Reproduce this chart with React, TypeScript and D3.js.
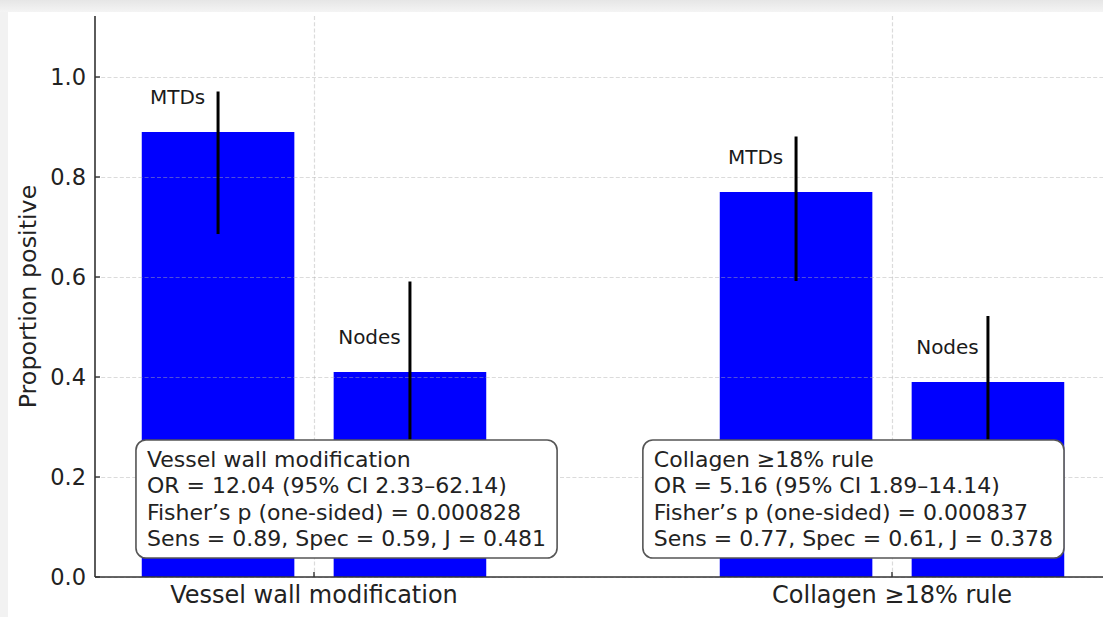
import React, { useEffect, useRef } from "react";
import * as d3 from "d3";

// Two diagnostic rules, each comparing MTDs against Nodes
const groups = ["Vessel wall modification", "Collagen ≥18% rule"];
const subgroups = ["MTDs", "Nodes"];
// proportion positive per group × subgroup
const proportions = [
  [0.89, 0.41],
  [0.77, 0.39],
];
// 95% confidence interval bounds per group × subgroup
const ciLower = [
  [0.686, 0.25],
  [0.592, 0.27],
];
const ciUpper = [
  [0.971, 0.591],
  [0.881, 0.522],
];
// summary statistics shown in each group's box
const statLines = [
  [
    "Vessel wall modification",
    "OR = 12.04 (95% CI 2.33–62.14)",
    "Fisher’s p (one-sided) = 0.000828",
    "Sens = 0.89, Spec = 0.59, J = 0.481",
  ],
  [
    "Collagen ≥18% rule",
    "OR = 5.16 (95% CI 1.89–14.14)",
    "Fisher’s p (one-sided) = 0.000837",
    "Sens = 0.77, Spec = 0.61, J = 0.378",
  ],
];
const yTicks = [0, 0.2, 0.4, 0.6, 0.8, 1.0];
const yLabel = "Proportion positive";

const W = 1103;
const H = 617;
const FONT = "'DejaVu Sans', Verdana, sans-serif";

export default function App() {
  const ref = useRef<SVGSVGElement | null>(null);

  useEffect(() => {
    const svg = d3.select(ref.current);
    svg.selectAll("*").remove();

    const left = 95;
    const bottom = 577;
    const top = 16;

    const x = d3.scaleLinear().domain([0, 1]).range([314, 892]);
    const y = d3.scaleLinear().domain([0, 1.122]).range([bottom, top]);
    const barOffset = 0.166;
    const barWidth = 0.264;
    const barPx = x(barWidth) - x(0);

    // page backdrop with a soft shadow on the top and left edges
    const defs = svg.append("defs");
    const grad = defs
      .append("linearGradient")
      .attr("id", "topShade")
      .attr("x1", 0)
      .attr("y1", 0)
      .attr("x2", 0)
      .attr("y2", 1);
    grad.append("stop").attr("offset", "0%").attr("stop-color", "#e6e6e6");
    grad.append("stop").attr("offset", "100%").attr("stop-color", "#f4f4f4");
    svg.append("rect").attr("width", W).attr("height", H).attr("fill", "#f2f2f2");
    svg.append("rect").attr("width", W).attr("height", 12).attr("fill", "url(#topShade)");
    svg.append("rect").attr("x", 8).attr("y", 12).attr("width", W - 8).attr("height", H - 12).attr("fill", "#fff");

    // bars
    const barData = groups.flatMap((g, gi) =>
      subgroups.map((s, si) => ({
        gi,
        si,
        name: s,
        center: gi + (si === 0 ? -barOffset : barOffset),
        value: proportions[gi][si],
        lo: ciLower[gi][si],
        hi: ciUpper[gi][si],
      }))
    );

    svg
      .append("g")
      .selectAll("rect")
      .data(barData)
      .join("rect")
      .attr("x", (d) => x(d.center) - barPx / 2)
      .attr("width", barPx)
      .attr("y", (d) => y(d.value))
      .attr("height", (d) => y(0) - y(d.value))
      .attr("fill", "#0000ff");

    // grid (drawn above the bars, as light dashed lines)
    const grid = svg
      .append("g")
      .attr("stroke", "#b0b0b0")
      .attr("stroke-opacity", 0.45)
      .attr("stroke-width", 1.2)
      .attr("stroke-dasharray", "4,2.2");
    grid
      .selectAll("line.h")
      .data(yTicks)
      .join("line")
      .attr("x1", left)
      .attr("x2", W)
      .attr("y1", (d) => Math.round(y(d)) + 0.5)
      .attr("y2", (d) => Math.round(y(d)) + 0.5);
    grid
      .selectAll("line.v")
      .data(groups.map((_, i) => i))
      .join("line")
      .attr("x1", (d) => Math.round(x(d)) + 0.5)
      .attr("x2", (d) => Math.round(x(d)) + 0.5)
      .attr("y1", top)
      .attr("y2", bottom);

    // error bars
    svg
      .append("g")
      .selectAll("line")
      .data(barData)
      .join("line")
      .attr("x1", (d) => x(d.center))
      .attr("x2", (d) => x(d.center))
      .attr("y1", (d) => y(d.lo))
      .attr("y2", (d) => y(d.hi))
      .attr("stroke", "#000")
      .attr("stroke-width", 3);

    // subgroup labels above each bar
    svg
      .append("g")
      .selectAll("text")
      .data(barData)
      .join("text")
      .attr("x", (d) => x(d.center - 0.07))
      .attr("y", (d) => y(d.value + 0.07))
      .attr("text-anchor", "middle")
      .attr("dominant-baseline", "central")
      .attr("font-family", FONT)
      .attr("font-size", 20)
      .attr("fill", "#1a1a1a")
      .text((d) => d.name);

    // statistics boxes, anchored relative to each group's position
    const boxAnchor = [-0.289, -0.412];
    const lineGap = 26.4;
    const firstLine = 459.5;
    groups.forEach((_, gi) => {
      const g = svg.append("g");
      const tx = x(gi + boxAnchor[gi]);
      const rect = g.append("rect");
      const texts = g
        .selectAll("text")
        .data(statLines[gi])
        .join("text")
        .attr("x", tx)
        .attr("y", (_, i) => firstLine + i * lineGap)
        .attr("dominant-baseline", "central")
        .attr("font-family", FONT)
        .attr("font-size", 22)
        .attr("fill", "#222")
        .text((d) => d);
      let maxW = 0;
      texts.each(function () {
        maxW = Math.max(maxW, (this as SVGTextElement).getComputedTextLength());
      });
      rect
        .attr("x", tx - 11)
        .attr("y", 440)
        .attr("width", maxW + 22)
        .attr("height", 118)
        .attr("rx", 10)
        .attr("ry", 10)
        .attr("fill", "#fff")
        .attr("stroke", "#555")
        .attr("stroke-width", 1.6);
      rect.lower();
    });

    // y axis
    const ya = svg.append("g");
    ya.append("line")
      .attr("x1", left)
      .attr("x2", left)
      .attr("y1", top)
      .attr("y2", bottom)
      .attr("stroke", "#333")
      .attr("stroke-width", 1.6);
    ya.selectAll("line.t")
      .data(yTicks)
      .join("line")
      .attr("x1", left)
      .attr("x2", left + 5)
      .attr("y1", (d) => y(d))
      .attr("y2", (d) => y(d))
      .attr("stroke", "#333")
      .attr("stroke-width", 1.4);
    ya.selectAll("text")
      .data(yTicks)
      .join("text")
      .attr("x", left - 9)
      .attr("y", (d) => y(d))
      .attr("text-anchor", "end")
      .attr("dominant-baseline", "central")
      .attr("font-family", FONT)
      .attr("font-size", 22.5)
      .attr("fill", "#222")
      .text((d) => d3.format(".1f")(d));
    svg
      .append("text")
      .attr("transform", `translate(28,${(top + bottom) / 2}) rotate(-90)`)
      .attr("text-anchor", "middle")
      .attr("dominant-baseline", "central")
      .attr("font-family", FONT)
      .attr("font-size", 23.8)
      .attr("fill", "#222")
      .text(yLabel);

    // x axis
    const xa = svg.append("g");
    xa.append("line")
      .attr("x1", left)
      .attr("x2", W)
      .attr("y1", bottom)
      .attr("y2", bottom)
      .attr("stroke", "#333")
      .attr("stroke-width", 1.6);
    xa.selectAll("line.t")
      .data(groups.map((_, i) => i))
      .join("line")
      .attr("x1", (d) => x(d))
      .attr("x2", (d) => x(d))
      .attr("y1", bottom)
      .attr("y2", bottom - 5)
      .attr("stroke", "#333")
      .attr("stroke-width", 1.4);
    xa.selectAll("text")
      .data(groups)
      .join("text")
      .attr("x", (_, i) => x(i))
      .attr("y", 594.5)
      .attr("text-anchor", "middle")
      .attr("dominant-baseline", "central")
      .attr("font-family", FONT)
      .attr("font-size", 24)
      .attr("fill", "#222")
      .text((d) => d);
  }, []);

  return (
    <svg
      ref={ref}
      width={W}
      height={H}
      style={{ position: "absolute", left: 0, top: 0, display: "block" }}
    />
  );
}
